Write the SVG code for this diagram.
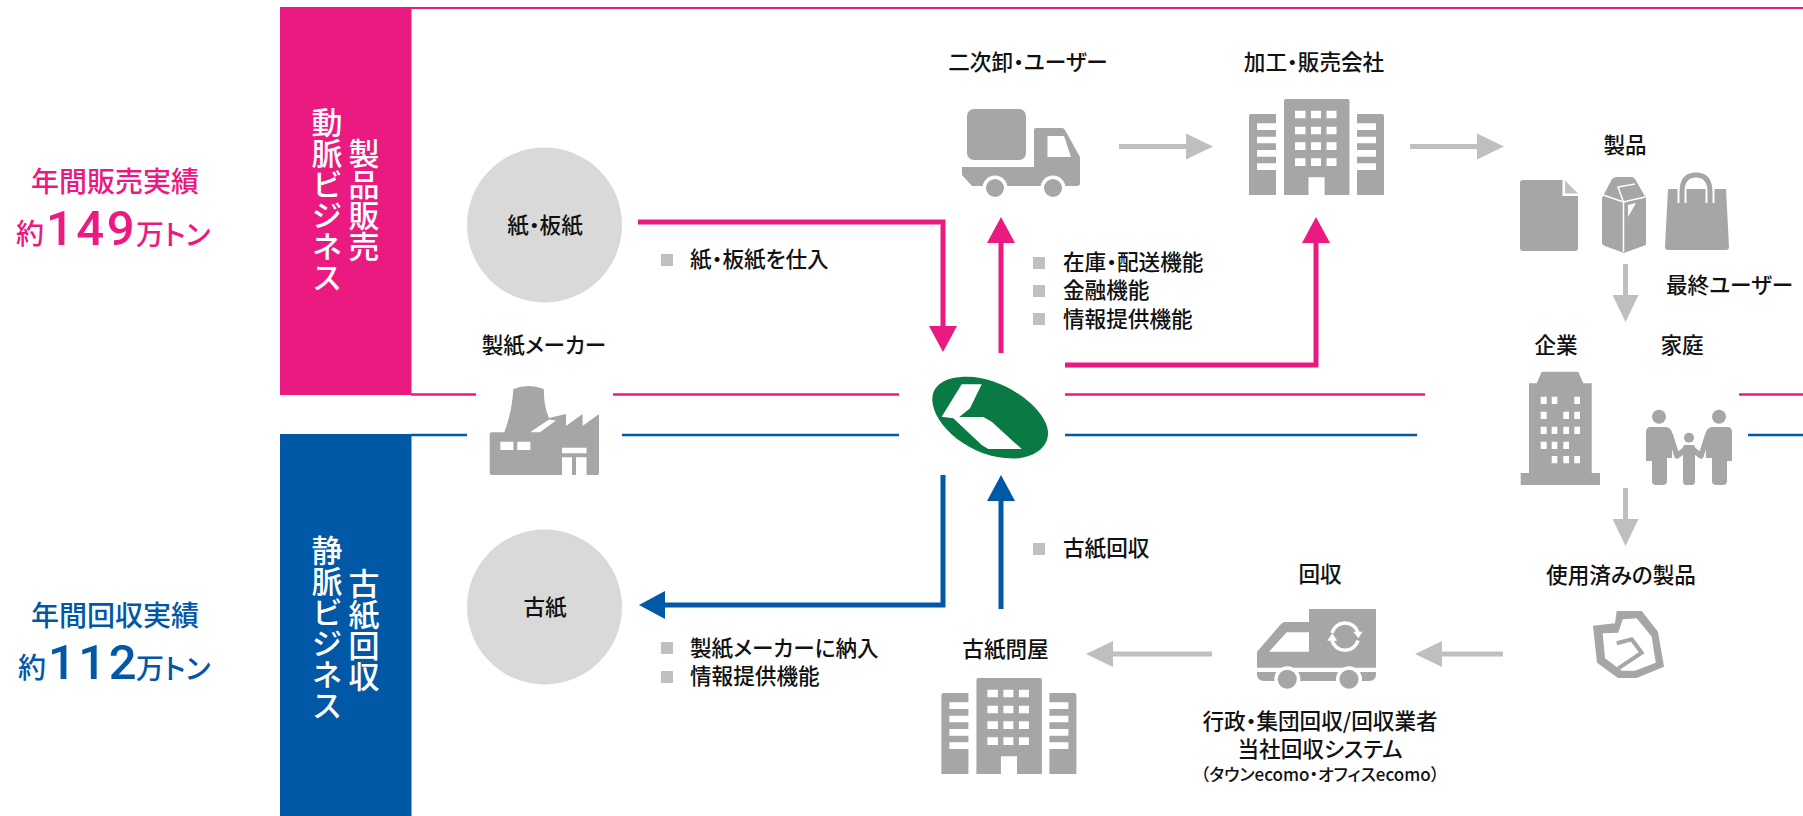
<svg xmlns="http://www.w3.org/2000/svg" xmlns:xlink="http://www.w3.org/1999/xlink" width="1803" height="816" viewBox="0 0 1803 816">
<style>
text{font-family:"Noto Sans CJK JP","Noto Sans",sans-serif;font-feature-settings:"palt";fill:#111;font-weight:500;font-size:21.600px}
.c{text-anchor:middle}
.v{writing-mode:vertical-rl;text-anchor:middle;fill:#fff;font-size:31px;font-weight:500}
.pk{fill:#eb1a80}.bl{fill:#0058a6}
.ic{fill:#a6a6a6}.wh{fill:#fff}.sq{fill:#bfbfbf}
.p{stroke:#eb1a80;fill:none}.b{stroke:#0058a6;fill:none}
.g{stroke:#bfbfbf;stroke-width:5;fill:none}
.big{font-family:"Roboto","Noto Sans",sans-serif;font-size:49px;letter-spacing:2.500px;font-feature-settings:normal}
.hd{font-size:28px}.un{font-size:28px}
</style>
<defs>
<marker id="mp" markerUnits="userSpaceOnUse" markerWidth="26" markerHeight="28" refX="1" refY="14" orient="auto"><path d="M0 0L26 14L0 28z" fill="#eb1a80"/></marker>
<marker id="mb" markerUnits="userSpaceOnUse" markerWidth="26" markerHeight="28" refX="1" refY="14" orient="auto"><path d="M0 0L26 14L0 28z" fill="#0058a6"/></marker>
<marker id="mg" markerUnits="userSpaceOnUse" markerWidth="28" markerHeight="28" refX="1" refY="14" orient="auto"><path d="M0 1L27 14L0 27z" fill="#bfbfbf"/></marker>
<g id="bld">
<path class="ic" d="M1284 195V101q0-2 2-2h61.500q2 0 2 2V195H1324.600V177.300H1308.500V195zM1249 195V116q0-2 2-2h25v9.300h-19v6.700h19v6.700h-19v6.600h19V150h-19v6.700h19v6.600h-19V170h19v25zM1384 195V116q0-2-2-2h-25v9.300h19v6.700h-19v6.700h19v6.600h-19V150h19v6.700h-19v6.600h19V170h-19v25z"/>
<path class="wh" d="M1295 110.700h10.500v7.600H1295zM1311 110.700h10v7.600h-10zM1326.500 110.700h10v7.600h-10zM1295 126.700h10.500v7.600H1295zM1311 126.700h10v7.600h-10zM1326.500 126.700h10v7.600h-10zM1295 142.300h10.500v7.700H1295zM1311 142.300h10v7.700h-10zM1326.500 142.300h10v7.700h-10zM1295 158.300h10.500v7.700H1295zM1311 158.300h10v7.700h-10zM1326.500 158.300h10v7.700h-10z"/>
</g>
</defs>

<g id="bands">
<path class="p" stroke-width="2" d="M411 8H1803"/>
<rect x="280" y="7" width="131.500" height="388" fill="#eb1a80"/>
<rect x="280" y="434" width="131.500" height="382" fill="#0058a6"/>
</g>

<g id="connectors">
<path class="p" stroke-width="2.500" d="M411 394.500H476M613 394.500H899M1065 394.500H1425M1739 394.500H1803"/>
<path class="b" stroke-width="2.500" d="M411 435H467M622 435H899M1065 435H1417M1748 435H1803"/>
<path class="p" stroke-width="5" marker-end="url(#mp)" d="M638 222H943V327"/>
<path class="p" stroke-width="5" marker-end="url(#mp)" d="M1001 353V242"/>
<path class="p" stroke-width="5" marker-end="url(#mp)" d="M1065 365H1316V242"/>
<path class="b" stroke-width="5" marker-end="url(#mb)" d="M943 475V605H664"/>
<path class="b" stroke-width="5" marker-end="url(#mb)" d="M1001 609V500"/>
<path class="g" marker-end="url(#mg)" d="M1119 146.500H1187"/>
<path class="g" marker-end="url(#mg)" d="M1410 146.500H1478"/>
<path class="g" marker-end="url(#mg)" d="M1625.500 264V296"/>
<path class="g" marker-end="url(#mg)" d="M1625.500 488V520"/>
<path class="g" marker-end="url(#mg)" d="M1503 654H1441"/>
<path class="g" marker-end="url(#mg)" d="M1212 654H1112"/>
</g>

<g id="band-labels">
<text class="v" x="364" y="200">製品販売</text>
<text class="v" x="327" y="200">動脈ビジネス</text>
<text class="v" x="364" y="630">古紙回収</text>
<text class="v" x="327" y="628">静脈ビジネス</text>
</g>

<g id="sales">
<text class="pk c hd" x="115" y="192">年間販売実績</text>
<text class="pk hd" x="16" y="244">約</text>
<text class="pk big" x="46" y="245">149</text>
<text class="pk un" x="136" y="245">万トン</text>
</g>
<g id="collection">
<text class="bl c hd" x="115" y="626">年間回収実績</text>
<text class="bl hd" x="18" y="678">約</text>
<text class="bl big" x="48" y="679">112</text>
<text class="bl un" x="136" y="679">万トン</text>
</g>

<g id="node-paper">
<circle cx="544.500" cy="225" r="77.500" fill="#d9d9d9"/>
<text class="c" x="545" y="233">紙・板紙</text>
</g>
<g id="node-wastepaper">
<circle cx="544.500" cy="607" r="77.500" fill="#d9d9d9"/>
<text class="c" x="545" y="615">古紙</text>
</g>

<g id="node-maker">
<text class="c" x="544" y="353">製紙メーカー</text>
<path class="ic" d="M513.400 389q15-6 30.400 0q0 18 5.200 29L566 414V426L582.600 414V426L599 414V473q0 2-2 2H491.700q-2 0-2-2V434.300q0-2 2-2h12.600Q512 412 513.400 389z"/>
<path class="wh" d="M530 432.300L549 419.500l7 1L540 432.300zM500.300 441.700h13.100v8.300h-13.100zM517.300 441.700h13.100v8.300h-13.100zM562 447.700h24.500v5.600H562zM562 457.300h10v17.700h-10zM576 457.300h10.500v17.700H576z"/>
</g>

<g id="node-logo">
<path fill="#0a7a45" d="M932.300 400C932 385 945 376.700 967 376.700C1005 376.700 1048 410 1048 433C1048 450 1030 458.500 1013 458.500C970 458.500 933 425 932.300 400z"/>
<path class="wh" d="M961.700 384.300H981.700L970 408.300L959.300 417H983.300L991.700 421.700L1021.700 449H988.300L981.700 445L953.300 418.300L941.700 416.700z"/>
</g>

<g id="node-wholesale">
<text class="c" x="1028" y="70">二次卸・ユーザー</text>
<rect class="ic" x="967" y="109" width="59" height="51" rx="7"/>
<path class="ic" d="M962 167H1034V130q0-2 2-2H1062q2 0 3 2L1080 157V183q0 3-3 3H972L962 175z"/>
<path class="wh" d="M1047.500 136H1064L1071 157H1047.500z"/>
<circle class="wh" cx="995" cy="188" r="12.500"/><circle class="wh" cx="1053" cy="188" r="12.500"/>
<circle class="ic" cx="995" cy="188" r="9"/><circle class="ic" cx="1053" cy="188" r="9"/>
</g>

<g id="node-processor">
<text class="c" x="1314" y="70">加工・販売会社</text>
<use xlink:href="#bld" href="#bld"/>
</g>

<g id="node-products">
<text class="c" x="1625" y="153">製品</text>
<path class="ic" d="M1523 180H1562.500V196H1578V248q0 3-3 3H1523q-3 0-3-3V183q0-3 3-3z"/>
<path class="ic" d="M1565 180.500L1578 193.500H1565z" opacity=".7"/>
<path class="ic" d="M1612 179q2-2 5-2H1631q3 0 4 2L1646 198V243q0 3-3 3L1624 253L1605 246q-3-1-3-3V198z"/>
<path fill="none" stroke="#fff" stroke-width="1.500" d="M1623.500 252V202M1603 195L1623.500 202L1645 197M1623.500 202L1618 187L1635 184"/>
<path class="wh" d="M1628 205L1636 203L1628 217z"/>
<path class="ic" d="M1668 189H1726L1729 247q0 3-3 3H1668q-3 0-3-3z"/>
<path fill="none" stroke="#fff" stroke-width="9" d="M1682 189V203M1710 189V203"/>
<path fill="none" stroke="#a6a6a6" stroke-width="5" stroke-linecap="round" d="M1682 204V192Q1682 175 1696 175Q1710 175 1710 192V204"/>
</g>

<g id="node-enduser">
<text x="1666" y="293">最終ユーザー</text>
</g>

<g id="node-company">
<text class="c" x="1556" y="353">企業</text>
<path class="ic" d="M1541.700 371.700H1578.300L1583.300 383.300H1591.700V473H1600V485H1520.700V473H1529V383.300H1536.700z"/>
<path class="wh" d="M1540.700 396.700h6v7.300h-6zM1551.700 396.700h5.600v7.300h-5.600zM1574.300 396.700h5.700v7.300h-5.700zM1540.700 411.700h6V419h-6zM1563.300 411.700h5.700V419h-5.700zM1574.300 411.700h5.700V419h-5.700zM1540.700 426.700h6V434h-6zM1551.700 426.700h5.600V434h-5.600zM1563.300 426.700h5.700V434h-5.700zM1574.300 426.700h5.700V434h-5.700zM1540.700 441.700h6V449h-6zM1551.700 441.700h5.600V449h-5.600zM1563.300 441.700h5.700V449h-5.700zM1551.700 456h5.600v7.300h-5.600zM1563.300 456h5.700v7.300h-5.700zM1574.300 456h5.700v7.300h-5.700z"/>
</g>

<g id="node-household">
<text class="c" x="1682" y="353">家庭</text>
<circle class="ic" cx="1659" cy="416.700" r="7"/><circle class="ic" cx="1719" cy="416.700" r="7"/><circle class="ic" cx="1689" cy="437.700" r="5"/>
<path class="ic" d="M1651 427H1665Q1670 427 1672 432V458H1667V481q0 4-4 4h-7q-4 0-4-4V461H1646V432Q1646 427 1651 427z"/>
<path class="ic" d="M1713 427H1727Q1732 427 1732 432V461H1727V481q0 4-4 4h-7q-4 0-4-4V458H1706V432Q1708 427 1713 427z"/>
<path class="ic" d="M1685 445H1693q2 0 2 2V481q0 4-3 4h-6q-3 0-3-4V447q0-2 2-2z"/>
<path fill="none" stroke="#a6a6a6" stroke-width="5.500" stroke-linejoin="round" d="M1670 434L1677 456L1687 448M1708 434L1701 456L1691 448"/>
</g>

<g id="node-used">
<text class="c" x="1621" y="583">使用済みの製品</text>
<path class="ic" fill-rule="evenodd" d="M1593 625.700L1615 623.300L1616.700 611H1641.700L1658 631.700L1664 666.700L1636.700 678H1618L1597 662.700zM1602.700 633.300L1605 658.300L1621.700 670.700H1635L1655.700 662.700L1651.700 636.700L1636.700 618.300L1622.700 619.300L1618.300 632.700z"/>
<path fill="none" stroke="#a6a6a6" stroke-width="4" d="M1616.700 643.300L1631.700 639.300L1641.700 652.700L1618.300 668.300"/>
</g>

<g id="node-collect">
<text class="c" x="1320" y="582">回収</text>
<path class="ic" d="M1309 609H1376V667.700H1257V651.700L1281 624q2-2 4-2H1309z"/>
<path class="wh" d="M1269 651.700L1286.700 632.300H1309V651.700z"/>
<path class="ic" d="M1257 672H1376V674q0 7-7 7H1264q-7 0-7-7z"/>
<circle class="wh" cx="1287.300" cy="679.300" r="13"/><circle class="wh" cx="1349" cy="679.300" r="13"/>
<circle class="ic" cx="1287.300" cy="679.300" r="9.500"/><circle class="ic" cx="1349" cy="679.300" r="9.500"/>
<path fill="none" stroke="#fff" stroke-width="3.500" d="M1332 633A13.500 13.500 0 0 1 1358 632.500M1358 640.500A13.500 13.500 0 0 1 1332 640.500"/>
<path class="wh" d="M1353.300 631.700H1362.700L1358.300 638.300zM1327.300 640.700H1337.300L1332.300 633.300z"/>
<text class="c" x="1320" y="729">行政・集団回収/回収業者</text>
<text class="c" x="1320" y="757">当社回収システム</text>
<text class="c" x="1320" y="781" style="font-size:17px">（タウンecomo・オフィスecomo）</text>
</g>

<g id="node-dealer">
<text class="c" x="1005.500" y="657">古紙問屋</text>
<use xlink:href="#bld" href="#bld" transform="translate(-307.600 579)"/>
</g>

<g id="notes">
<rect class="sq" x="661" y="254" width="12" height="12"/><text x="690" y="267">紙・板紙を仕入</text>
<rect class="sq" x="1033" y="257" width="12" height="12"/><text x="1063" y="270">在庫・配送機能</text>
<rect class="sq" x="1033" y="285" width="12" height="12"/><text x="1063" y="298">金融機能</text>
<rect class="sq" x="1033" y="313" width="12" height="12"/><text x="1063" y="327">情報提供機能</text>
<rect class="sq" x="1033" y="543" width="12" height="12"/><text x="1063" y="556">古紙回収</text>
<rect class="sq" x="661" y="642" width="12" height="12"/><text x="690" y="656">製紙メーカーに納入</text>
<rect class="sq" x="661" y="671" width="12" height="12"/><text x="690" y="684">情報提供機能</text>
</g>
</svg>
